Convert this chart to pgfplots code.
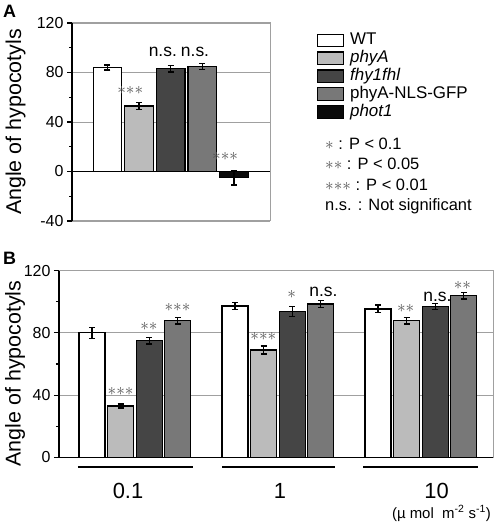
\documentclass[border=0pt]{standalone}
\usepackage{pgfplots}
\pgfplotsset{compat=1.18}
\usepackage{fontspec}
\setmainfont{Liberation Sans}

\definecolor{cWT}{HTML}{FFFFFF}
\definecolor{cPhyA}{HTML}{BBBBBB}
\definecolor{cFhy}{HTML}{454545}
\definecolor{cNLS}{HTML}{787878}
\definecolor{cPhot}{HTML}{0A0A0A}
\definecolor{gridc}{HTML}{A0A0A0}
\definecolor{astc}{HTML}{555555}

\newcommand{\sa}{\textcolor{astc}{$\ast$}}
\newcommand{\saa}{\textcolor{astc}{${\ast}{\ast}$}}
\newcommand{\saaa}{\textcolor{astc}{${\ast}{\ast}{\ast}$}}

\pgfplotsset{
  common/.style={
    scale only axis,
    ybar, bar shift=0pt,
    xtick=\empty,
    ytick pos=left, tick align=outside,
    major tick length=5bp, minor tick length=3bp,
    tick style={black, line width=1.1bp},
    ymajorgrids, grid style={gridc, line width=0.8bp},
    axis line style={gridc, line width=1bp},
    yticklabel style={font=\fontsize{16}{19}\selectfont},
    /pgf/number format/assume math mode=true,
    clip=false,
  },
  barsty/.style={draw=black, line width=1.2bp,
    error bars/y dir=both, error bars/y explicit,
    error bars/error bar style={line width=1.3bp, black},
    error bars/error mark options={rotate=90, mark size=3bp, line width=1.3bp, black}},
}

\begin{document}
\begin{tikzpicture}
\useasboundingbox (0,0) rectangle (498bp,523bp);

% ---------------- Panel A ----------------
\begin{axis}[common,
  at={(72bp,302bp)}, anchor=south west,
  width=198bp, height=198bp,
  xmin=-1.123, xmax=5.142, ymin=-40, ymax=120,
  bar width=0.9,
  ytick={-40,0,40,80,120}, minor ytick={-20,20,60,100},
  ylabel={Angle of hypocotyls},
  ylabel style={font=\fontsize{21.5}{25}\selectfont, at={(axis description cs:-0.285,0.5)}, anchor=center},
  legend cell align=left,
  legend image code/.code={\draw[#1, line width=1.2bp] (0bp,-6.3bp) rectangle (26bp,6.3bp);},
  legend style={at={(axis description cs:1.236,0.952)}, anchor=north west,
    draw=none, fill=none, inner sep=0pt,
    font=\fontsize{17}{20}\selectfont, row sep=2.4bp,
    /tikz/every odd column/.append style={column sep=4bp},
    nodes={inner xsep=2bp, inner ysep=0pt, text height=12bp, text depth=3.5bp}},
]
\addplot[barsty, fill=cWT] coordinates {(0,84) +- (0,2)};
\addlegendentry{WT}
\addplot[barsty, fill=cPhyA] coordinates {(1,53) +- (0,3)};
\addlegendentry{\itshape phyA}
\addplot[barsty, fill=cFhy] coordinates {(2,83) +- (0,2.5)};
\addlegendentry{\itshape fhy1fhl}
\addplot[barsty, fill=cNLS] coordinates {(3,85) +- (0,2.5)};
\addlegendentry{phyA-NLS-GFP}
\addplot[barsty, fill=cPhot] coordinates {(4,-5) +- (0,6)};
\addlegendentry{\itshape phot1}
\draw[black, line width=1.5bp] (axis cs:-1.123,0) -- (axis cs:5.142,0);
\draw[black, line width=1.5bp] (rel axis cs:0,0) -- (rel axis cs:0,1);
\node[font=\fontsize{17.5}{20}\selectfont] at (axis cs:0.72,65.5) {\saaa};
\node[font=\fontsize{17.5}{20}\selectfont] at (axis cs:1.75,96.4) {n.s.};
\node[font=\fontsize{17.5}{20}\selectfont] at (axis cs:2.77,96.4) {n.s.};
\node[font=\fontsize{17.5}{20}\selectfont] at (axis cs:3.72,12.4) {\saaa};
\end{axis}

% ---------------- Panel B ----------------
\begin{axis}[common,
  at={(59bp,65.7bp)}, anchor=south west,
  width=434bp, height=186.6bp,
  xmin=-1.154, xmax=14.021, ymin=0, ymax=120,
  bar width=0.91,
  ytick={0,40,80,120}, minor ytick={20,60,100},
  xtick={1.26,6.57,12.05}, xticklabels={0.1,1,10},
  xtick style={draw=none},
  xticklabel style={font=\fontsize{22}{26}\selectfont, anchor=base, yshift=-36bp},
  ylabel={Angle of hypocotyls},
  ylabel style={font=\fontsize{21.5}{25}\selectfont, at={(axis description cs:-0.101,0.449)}, anchor=center},
]
\addplot[barsty, fill=cWT] coordinates {(0,80) +- (0,3.5) (5,97.3) +- (0,2.1) (10,95.4) +- (0,2.5)};
\addplot[barsty, fill=cPhyA] coordinates {(1,33) +- (0,1.3) (6,69) +- (0,2.6) (11,87.8) +- (0,2.1)};
\addplot[barsty, fill=cFhy] coordinates {(2,75) +- (0,2.2) (7,93.6) +- (0,3.2) (12,96.9) +- (0,1.9)};
\addplot[barsty, fill=cNLS] coordinates {(3,87.8) +- (0,2) (8,98.6) +- (0,2.1) (13,103.9) +- (0,2.1)};
\draw[black, line width=1.5bp] (rel axis cs:0,0) -- (rel axis cs:1,0);
\draw[black, line width=1.5bp] (rel axis cs:0,0) -- (rel axis cs:0,1);
\draw[black, line width=2bp] (axis cs:-0.49,-6) -- (axis cs:3.53,-6);
\draw[black, line width=2bp] (axis cs:4.55,-6) -- (axis cs:8.5,-6);
\draw[black, line width=2bp] (axis cs:9.48,-6) -- (axis cs:13.5,-6);
\node[font=\fontsize{17.5}{20}\selectfont] at (axis cs:1,42.2) {\saaa};
\node[font=\fontsize{17.5}{20}\selectfont] at (axis cs:1.99,84) {\saa};
\node[font=\fontsize{17.5}{20}\selectfont] at (axis cs:2.99,96.5) {\saaa};
\node[font=\fontsize{17.5}{20}\selectfont] at (axis cs:5.99,78) {\saaa};
\node[font=\fontsize{17.5}{20}\selectfont] at (axis cs:6.98,104.8) {\sa};
\node[font=\fontsize{17.5}{20}\selectfont] at (axis cs:8.09,106.5) {n.s.};
\node[font=\fontsize{17.5}{20}\selectfont] at (axis cs:10.97,95.4) {\saa};
\node[font=\fontsize{17.5}{20}\selectfont] at (axis cs:12.08,102.9) {n.s.};
\node[font=\fontsize{17.5}{20}\selectfont] at (axis cs:12.95,110.8) {\saa};
\end{axis}

% ---------------- Text outside axes ----------------
\node[anchor=base west, font=\bfseries\fontsize{18}{21}\selectfont, inner sep=0pt] at (3bp,505bp) {A};
\node[anchor=base west, font=\bfseries\fontsize{18}{21}\selectfont, inner sep=0pt] at (3bp,258bp) {B};

\begin{scope}[every node/.style={anchor=base west, inner sep=0pt, font=\fontsize{16.5}{19}\selectfont}]
\node at (325bp,373.5bp) {\sa\ : P {<} 0.1};
\node at (325bp,353bp) {\saa\ : P {<} 0.05};
\node at (325bp,332.3bp) {\saaa\ : P {<} 0.01};
\node at (325bp,312bp) {n.s. : Not significant};
\end{scope}

\node[anchor=base east, inner sep=0pt, font=\fontsize{15}{18}\selectfont] at (491bp,5bp) {(µ mol\ \ m\textsuperscript{-2} s\textsuperscript{-1})};
\end{tikzpicture}
\end{document}
